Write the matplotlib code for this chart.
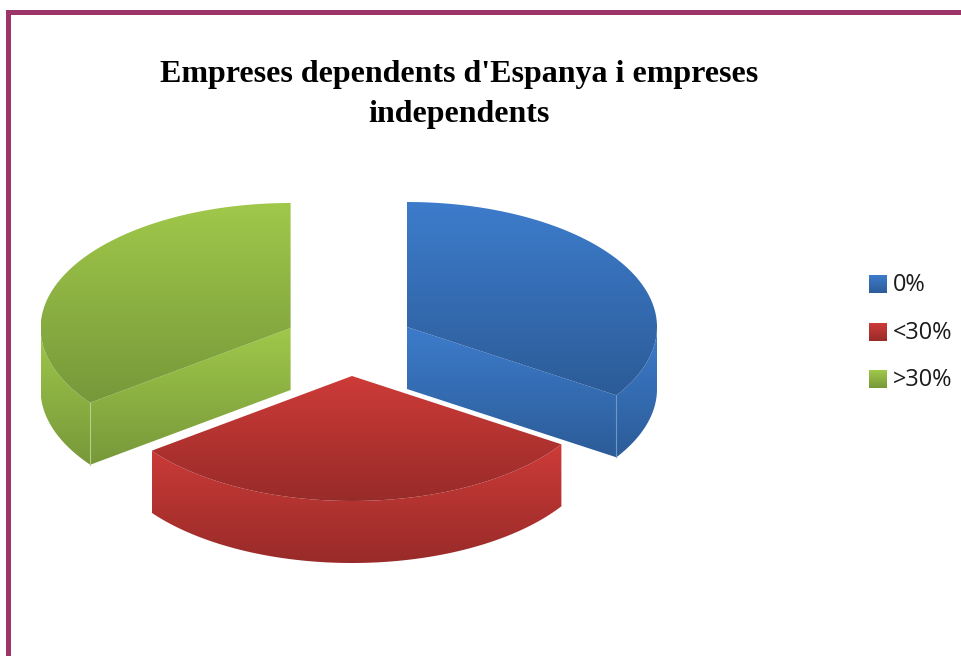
import matplotlib
matplotlib.use("Agg")
import matplotlib.pyplot as plt
import numpy as np
from matplotlib.colors import LinearSegmentedColormap
from matplotlib.patches import Polygon, Rectangle

plt.rcParams["font.family"] = ["Open Sans", "DejaVu Sans"]

# data, clockwise from 12 o'clock
categories = ["0%", "<30%", ">30%"]
values = [34.2, 30.6, 35.2]
top_colors = ["#3d7ccc", "#cd3b38", "#a0c84a"]
bottom_colors = ["#2c5c98", "#982b29", "#77983a"]
title = "Empreses dependents d'Espanya i empreses\nindependents"

W, H = 962, 656
fig = plt.figure(figsize=(W / 100, H / 100), dpi=100)
ax = fig.add_axes([0, 0, 1, 1])
ax.set_xlim(0, W)
ax.set_ylim(H, 0)
ax.axis("off")

centers = [(407, 327), (352, 376), (290.6, 328)]
rx, ry, depth = 250, 125, 62


def ramp(pts, c1, c2, z):
    pts = np.array(pts)
    cmap = LinearSegmentedColormap.from_list("r", [c1, c2])
    box = (pts[:, 0].min(), pts[:, 0].max(), pts[:, 1].max(), pts[:, 1].min())
    im = ax.imshow(np.linspace(0, 1, 256).reshape(-1, 1), cmap=cmap, extent=box,
                   aspect="auto", zorder=z, interpolation="bilinear")
    im.set_clip_path(Polygon(pts, closed=True, transform=ax.transData))


def arc(c, a1, a2):
    t = np.radians(np.linspace(a1, a2, 120))
    return np.column_stack([c[0] + rx * np.sin(t), c[1] - ry * np.cos(t)])


start = 0
for i in range(3):
    end = start + values[i] * 3.6
    c = centers[i]
    a = arc(c, start, end)
    down = np.array([0, depth])

    # cut faces first, then the rim, then the top
    if i == 0:
        p = a[-1]
        face = [c, p, p + down, (c[0], c[1] + depth)]
        ramp(face, top_colors[i], bottom_colors[i], 2)
        ax.plot([p[0], p[0]], [p[1], p[1] + depth], color="#6f97c8", lw=0.8, zorder=4)
    if i == 2:
        p = a[0]
        face = [c, p, p + down, (c[0], c[1] + depth)]
        ramp(face, top_colors[i], bottom_colors[i], 2)

    # rim only where the ellipse faces the viewer
    rim_a = max(start, 90)
    rim_b = min(end, 270)
    rim = arc(c, rim_a, rim_b)
    wall = np.vstack([rim, (rim + down)[::-1]])
    ramp(wall, top_colors[i], bottom_colors[i], 3)

    # green seam sits where the rim meets the cut face
    if i == 2:
        p = a[0]
        ax.plot([p[0], p[0]], [p[1], p[1] + depth], color="#b5cf85", lw=0.8, zorder=4)

    ramp(np.vstack([[c], a]), top_colors[i], bottom_colors[i], 5)
    start = end

# frame
frame = "#9c3568"
ax.add_patch(Rectangle((6, 9.5), W, 5.8, color=frame, lw=0, zorder=6))
ax.add_patch(Rectangle((6, 9.5), 5, H, color=frame, lw=0, zorder=6))

ax.text(459, 94.5, title, ha="center", va="center", fontsize=23, fontweight="bold",
        family="Liberation Serif", linespacing=1.53, color="black", zorder=7)

# legend
legend_y = [284, 332, 379]
for i in range(3):
    y = legend_y[i]
    ramp([(869, y - 9), (887, y - 9), (887, y + 9), (869, y + 9)],
         top_colors[i], bottom_colors[i], 7)
    ax.text(893, y + 1, categories[i], ha="left", va="center", fontsize=16.9,
            color="#1a1a1a", zorder=7)

ax.set_xlim(0, W)
ax.set_ylim(H, 0)
fig.savefig("out.png", dpi=100, facecolor="white")
